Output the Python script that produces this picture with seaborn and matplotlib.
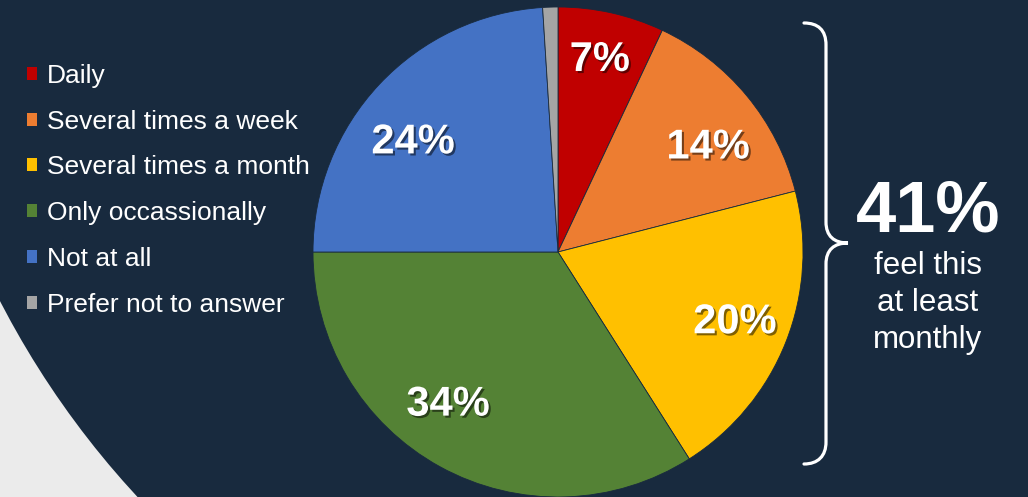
import matplotlib
matplotlib.use("Agg")
import matplotlib.pyplot as plt
import matplotlib.patheffects as pe
from matplotlib.patches import Circle, PathPatch
from matplotlib.path import Path
import numpy as np
import seaborn as sns

# data
labels = ["Daily", "Several times a week", "Several times a month",
          "Only occassionally", "Not at all", "Prefer not to answer"]
shares = [7, 14, 20, 34, 24, 1]
pct_labels = ["7%", "14%", "20%", "34%", "24%", ""]
total_label = "41%"
total_text = "feel this\nat least\nmonthly"

colors = ["#c00000", "#ed7d31", "#ffc000", "#548235", "#4472c4", "#a5a5a5"]
navy = "#182a3e"

sns.set_theme(style="white")
plt.rcParams["font.family"] = ["Liberation Sans", "DejaVu Sans"]

W, H = 1028, 497
fig = plt.figure(figsize=(W / 100, H / 100), dpi=100)
fig.patch.set_facecolor("#ebebeb")

# background: big navy disc, light grey outside it
bg = fig.add_axes([0, 0, 1, 1], zorder=-1)
bg.set_xlim(0, W)
bg.set_ylim(H, 0)
bg.axis("off")
bg.add_patch(Circle((784, -103), 882, color=navy, lw=0))

# brace on the right
verts = [(804, 23), (818, 23), (826, 30), (826, 45),
         (826, 222),
         (826, 236), (834, 243), (848, 243),
         (834, 243), (826, 250), (826, 264),
         (826, 442),
         (826, 456), (818, 464), (804, 464)]
codes = [Path.MOVETO, Path.CURVE4, Path.CURVE4, Path.CURVE4,
         Path.LINETO,
         Path.CURVE4, Path.CURVE4, Path.CURVE4,
         Path.CURVE4, Path.CURVE4, Path.CURVE4,
         Path.LINETO,
         Path.CURVE4, Path.CURVE4, Path.CURVE4]
bg.add_patch(PathPatch(Path(verts, codes), fill=False, ec="white", lw=2.3,
                       capstyle="round"))

# pie
ax = fig.add_axes([313 / W, 0, 490 / W, 490 / H])
wedges, _ = ax.pie(shares, colors=colors, startangle=90, counterclock=False,
                   wedgeprops=dict(edgecolor=navy, linewidth=0.6))
ax.set_xlim(-1, 1)
ax.set_ylim(-1, 1)
ax.set_aspect("equal")

# label placement: radial distance and small angle nudge per slice
dist = [0.82, 0.757, 0.77, 0.753, 0.753, 0.75]
nudge = [0.6, -3.6, 1.2, -7.8, 5.0, 0]
shadow = [pe.SimplePatchShadow(offset=(1.5, -1.5), alpha=0.5, shadow_rgbFace="black"),
          pe.Normal()]
for w, lab, d, n in zip(wedges, pct_labels, dist, nudge):
    if not lab:
        continue
    ang = np.deg2rad((w.theta1 + w.theta2) / 2 + n)
    ax.text(d * np.cos(ang), d * np.sin(ang), lab, ha="center", va="center_baseline",
            color="white", fontsize=30, fontweight="bold", path_effects=shadow)

leg = fig.legend(wedges, labels, loc="upper left", bbox_to_anchor=(0.026, 0.872),
                 frameon=False, fontsize=19, labelcolor="white",
                 handlelength=0.38, handleheight=0.38, handletextpad=0.37,
                 labelspacing=0.83, borderpad=0, borderaxespad=0)
for h in leg.legend_handles:
    h.set_linewidth(0)

fig.text(928 / W, 1 - 205 / H, total_label, ha="center", va="center_baseline",
         color="white", fontsize=52, fontweight="bold")
fig.text(928 / W, 1 - 303 / H, total_text, ha="center", va="center",
         color="white", fontsize=22.5, linespacing=1.3)

fig.savefig("out.png", dpi=100, facecolor=fig.get_facecolor())
